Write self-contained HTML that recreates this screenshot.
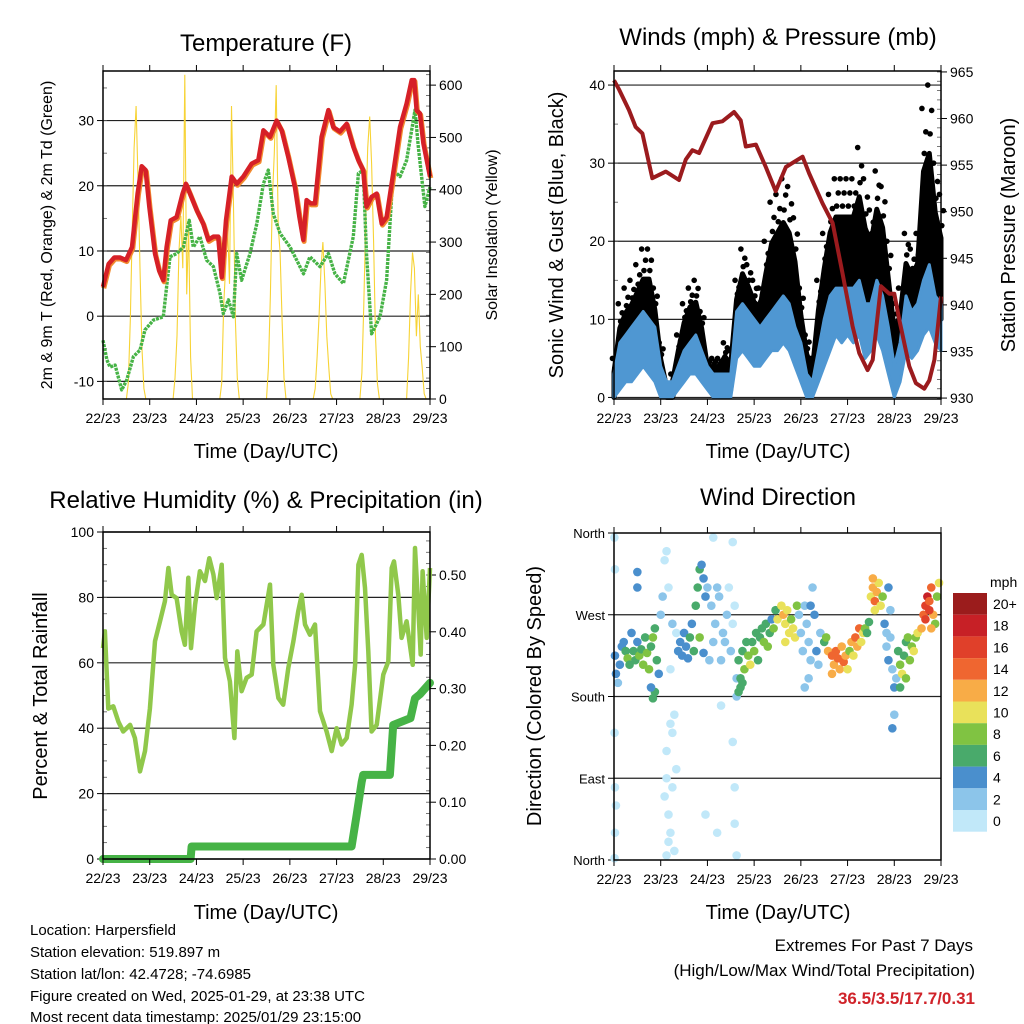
<!DOCTYPE html>
<html><head><meta charset="utf-8"><title>Station charts</title>
<style>
html,body{margin:0;padding:0;background:#fff;}
svg{display:block;font-family:"Liberation Sans",Arial,sans-serif;}
</style></head>
<body>
<svg id="chart" xmlns="http://www.w3.org/2000/svg" width="1024" height="1024" viewBox="0 0 1024 1024">
<rect x="0" y="0" width="1024" height="1024" fill="#fff"/>
<text x="266" y="51" font-size="24" text-anchor="middle">Temperature (F)</text>
<text x="778" y="45" font-size="24" text-anchor="middle">Winds (mph) &amp; Pressure (mb)</text>
<text x="266" y="508" font-size="24" text-anchor="middle">Relative Humidity (%) &amp; Precipitation (in)</text>
<text x="778" y="505" font-size="24" text-anchor="middle">Wind Direction</text>
<text x="266" y="458" font-size="20" text-anchor="middle">Time (Day/UTC)</text>
<text x="778" y="458" font-size="20" text-anchor="middle">Time (Day/UTC)</text>
<text x="266" y="919" font-size="20" text-anchor="middle">Time (Day/UTC)</text>
<text x="778" y="919" font-size="20" text-anchor="middle">Time (Day/UTC)</text>
<text transform="translate(52,235) rotate(-90)" font-size="16" text-anchor="middle">2m &amp; 9m T (Red, Orange) &amp; 2m Td (Green)</text>
<text transform="translate(497,235) rotate(-90)" font-size="16" text-anchor="middle">Solar Insolation (Yellow)</text>
<text transform="translate(563,235) rotate(-90)" font-size="20" text-anchor="middle">Sonic Wind &amp; Gust (Blue, Black)</text>
<text transform="translate(1015,235) rotate(-90)" font-size="20" text-anchor="middle">Station Pressure (Maroon)</text>
<text transform="translate(47,696) rotate(-90)" font-size="20" text-anchor="middle">Percent &amp; Total Rainfall</text>
<text transform="translate(541,696) rotate(-90)" font-size="20" text-anchor="middle">Direction (Colored By Speed)</text>
<g font-size="15">
<text x="30" y="935">Location: Harpersfield</text>
<text x="30" y="957">Station elevation: 519.897 m</text>
<text x="30" y="979">Station lat/lon: 42.4728; -74.6985</text>
<text x="30" y="1001">Figure created on Wed, 2025-01-29, at 23:38 UTC</text>
<text x="30" y="1022">Most recent data timestamp: 2025/01/29 23:15:00</text>
</g>
<g font-size="17" text-anchor="end">
<text x="973" y="951">Extremes For Past 7 Days</text>
<text x="975" y="976">(High/Low/Max Wind/Total Precipitation)</text>
<text x="975" y="1004" fill="#d0232a" font-weight="bold">36.5/3.5/17.7/0.31</text>
</g>
</svg>
<script>
// ---------- DATA ----------
const dayLabels = ["22/23","23/23","24/23","25/23","26/23","27/23","28/23","29/23"];
const tempHour = [0,2.9,5.8,8.7,11.8,14.9,17.8,19.9,21.9,23.8,26.7,28.8,31,32.7,34.8,37.8,40.9,42.6,44.7,48.1,51.5,54.1,56.7,59.2,61,63.2,66.1,68.7,72.1,76.4,79.8,82.4,85.8,89.2,91.8,95.2,98.6,100.9,102.9,104.6,106.7,108.9,112.3,115.8,118.3,121.7,125.2,128.6,131.2,133.7,135.4,138,140.6,143.2,145.7,149.1,152.6,156,158.6,159.9,161.1,162.8,164.6,168];
const tempRed = [4.5,8,9,9,8.6,10.6,18.8,23,22.4,16.8,9.6,7,5.5,10.6,14.7,15.2,18.8,20.3,18.8,16.3,14.2,11.7,12.2,12.2,6,14.7,21.4,20.3,21.4,23.4,23.9,28.5,27.5,30,28.5,24.4,19.8,15.2,11.7,17.8,17.3,17.3,27.5,31.6,29,28.3,29.5,26,23.9,22.4,16.8,18.3,18.8,14.2,15.2,21.9,29,32.6,36.2,36.2,31.6,31.1,26.5,21.4];
const dewHour = [0,2,3.6,6.2,9.6,12.2,15.6,19,21.6,25.9,31,32.7,34.4,37.8,41.3,44.3,46.4,49.8,53.2,56.7,60.1,61.8,64.4,67,68.7,71.2,75.5,79,82.4,84.9,87.5,91,96.1,99.5,103,106.3,111.5,115.8,119.2,123.5,128.6,131.2,133.7,135.4,138,142.3,145.7,149.1,152.6,156,160.3,162,165.4,168];
const dewVal = [-3.7,-6.7,-7.8,-7.5,-11.3,-9.8,-6.2,-5.2,-2.1,-0.6,-0.1,4.5,9.1,9.6,10.6,14.7,10.6,12.2,8.6,7.6,3.5,0.4,2.5,-0.1,9.6,5.5,9.6,14.2,20.3,22.4,15.7,12.7,10.6,8.6,6.5,9.1,7.6,9.6,6.5,5,12.2,21.9,22.4,9.6,-2.7,-0.1,5.5,22.4,21.4,23.9,31.6,26,16.8,19.8];
const solarOffsets = [12,13,14,15,16,17,18,19,20,21,22];
const solarDay0 = [0,30,150,320,480,560,420,250,100,20,0];
const solarDay1 = [0,40,120,280,350,250,620,200,330,80,0];
const solarDay2 = [0,30,180,250,330,220,560,380,150,40,0];
const solarDay3 = [0,60,200,380,470,600,330,280,150,40,0];
const solarDay4 = [0,20,80,160,250,300,220,120,60,10,0];
const solarDay5 = [0,50,180,350,480,540,450,300,120,30,0];
const solarDay6 = [0,80,200,280,250,120,200,100,60,10,0];
const solarDays = [solarDay0,solarDay1,solarDay2,solarDay3,solarDay4,solarDay5,solarDay6];

const windHour = [0,3,6,9,12,15,18,21,24,27,30,33,36,39,42,45,48,51,54,57,60,63,66,69,72,75,78,81,84,87,90,93,96,99,102,105,108,111,114,117,120,123,126,129,132,135,138,141,144,147,150,153,156,159,162,165,168];
const blueLo = [0,1,2,2,3,4,3,2,0,0,0,1,2,3,3,2,1,0,0,0,0,5,6,5,4,4,5,6,6,7,6,4,2,0,0,2,4,6,8,7,8,7,8,5,6,8,6,3,0,2,6,5,6,8,9,7,6];
const blueHi = [3,7,8,9,10,11,10,9,4,2,2,4,6,7,8,6,4,3,3,3,3,11,12,11,10,9,10,11,12,13,12,9,7,3,2,6,10,13,14,14,14,14,15,12,12,15,13,9,4,7,13,11,12,15,17,13,12];
const gustLo = [0,3,5,6,7,8,8,6,1,0,0,2,5,7,7,5,2,2,2,2,1,8,10,9,7,7,8,10,12,12,10,7,4,1,1,4,8,12,14,14,14,14,14,10,12,15,12,6,2,4,10,9,10,14,15,12,10];
const gustHi = [5,12,14,15,17,19,19,14,7,2,3,8,12,14,15,11,5,5,5,7,6,15,19,17,15,14,20,25,26,28,27,23,14,8,5,15,21,26,28,28,28,28,32,28,24,29,27,20,12,14,21,19,21,37,40,30,26];
const pressHour = [0,2.6,7.7,11.1,14.6,19.7,26.6,33.4,36.9,40.3,43.7,50.6,55.7,61.7,65.1,67.7,72.9,78,83.1,88.3,96.9,100.3,107.1,112.3,117.4,122.6,126,130.3,132.9,137.1,141.4,144,146.6,151.7,155.1,159.4,162,164.6,168];
const pressVal = [964.1,963.1,960.9,959.1,958.4,953.6,954.3,953.4,955.6,956.6,956.3,959.5,959.7,960.7,959.8,957,957.2,954.8,952.2,954.8,955.9,954.1,950.9,948.8,943.4,937.7,934.8,933,934.1,942,941.2,941.2,938.4,933.4,931.6,931,931.9,934.1,940.9];

const rhHour = [0,1,2.7,5.3,7.9,10.4,13.9,16.4,19,21.6,24.1,26.7,29.3,31.8,33.6,35.3,37.8,40.4,42.1,43.8,45.2,47.3,49.8,52.4,54.6,56.7,58.4,61,62.7,65.2,67.5,69,71.2,73.8,76.4,78.9,82.4,85.8,87.5,90.1,92.6,95.2,97.8,100.3,102.1,103.8,106.3,108.9,111.5,114.9,117.5,120,122.6,125.2,127.7,129.5,131.2,132.9,134.6,136.3,138,140.6,144,146.6,148.3,149.5,151.7,153.4,156,159.1,160.3,162,163.2,164.2,166.3,168];
const rhVal = [64.5,69.6,46,46.7,42,39,41,37,26.8,33,46,66.6,72.7,78.8,89,80.8,79.8,69.6,65.5,86,64.5,77.8,88,85,92,87,79.8,90,61.5,54.3,37,63.5,51.3,55.4,56.4,69.6,71.7,83.9,59.4,49.2,47.2,58.4,66.6,75.7,80.8,71.7,68.6,71.7,45.2,39,33,40,35,37,47.2,59.4,90,93,82.9,63.5,39,41,56.4,60.4,89,91,80.8,67.6,72.7,59.4,95.1,76.8,62.5,88,67.6,89];
const rainHour = [0,45,45.5,127.7,130.3,132.9,133.7,147.4,149.1,158,160.3,162.8,168];
const rainVal = [0,0,0.022,0.022,0.077,0.136,0.148,0.148,0.236,0.248,0.283,0.29,0.31];

const wdHour = [0.5,1,2,3,4,5,6,7,8,9,10,11,12,13,14,15,16,17,18,19,20,21,22,23,21,19,20,
 0.2,0.5,0.3,0.5,0.5,1,0.3,12,12,28,30,32,30,28,29,31,27,26,27,29,25,26,27,24,30,33,32,29,31,27,28,
 33,34,35,36,37,38,39,40,41,42,43,44,45,46,47,44,46,
 48,50,52,54,56,58,60,62,49,51,53,55,57,59,61,51,61,47,53,55,61,62,62,63,63,63,
 64,65,66,67,68,69,70,71,72,73,74,75,76,77,78,79,80,81,82,83,84,64,65,66,
 86,87,88,89,90,91,92,93,94,88,
 95,96,97,98,99,100,101,102,103,104,105,106,98,100,101,
 108,110,112,113,114,115,116,117,118,119,120,121,122,123,124,125,126,127,128,129,130,131,112,109,
 132,133,134,135,136,137,138,134,133,
 139,140,141,142,143,144,145,140,144,143,141,142,
 146,147,148,149,150,151,152,153,154,155,156,147,150,
 158,159,160,161,162,163,164,165,166,167,160,163,162];
const wdDeg = [225,205,195,215,235,240,230,222,215,250,230,220,240,225,232,215,245,228,210,235,245,255,220,205,185,190,178,
 355,320,140,80,30,60,2,317,300,300,140,100,80,50,30,10,5,70,90,150,290,330,340,270,260,230,250,210,160,120,20,
 230,240,225,250,235,222,245,260,230,280,300,320,325,310,290,245,228,
 300,280,260,290,250,270,230,280,220,240,300,220,240,300,260,355,350,50,30,170,130,80,40,5,180,200,
 220,200,230,210,240,225,215,240,230,250,220,245,255,240,260,235,250,265,255,275,265,185,190,195,
 280,270,260,275,250,265,255,245,280,240,
 270,250,230,280,260,240,220,300,270,230,215,250,190,200,280,
 240,230,225,215,230,222,210,235,218,225,210,230,240,225,245,235,255,240,250,255,250,262,205,245,
 290,300,285,295,305,280,290,275,310,
 260,235,220,245,210,190,200,250,160,145,300,275,
 230,215,205,225,240,245,220,235,230,245,250,190,200,
 255,270,280,290,285,300,270,260,290,305,265,255,275];
const wdSpd = [4,4,3,4,5,4,6,8,7,4,6,7,5,8,6,9,6,8,9,7,8,7,6,5,6,5,6,
 1,1,1,1,1,1,1,4,4,1,1,1,1,1,1,1,1,1,1,1,2,1,1,2,2,2,1,1,1,1,1,
 4,4,4,4,5,4,6,4,6,6,6,6,4,4,4,8,5,
 2,2,2,2,2,2,2,1,2,3,2,2,2,1,1,1,1,1,1,1,1,1,1,1,2,3,
 6,7,7,8,6,8,11,6,8,6,7,7,6,9,6,8,7,5,9,7,10,6,6,7,
 11,12,10,11,10,9,10,10,8,10,
 3,3,3,2,2,3,3,2,4,4,3,3,2,2,4,
 7,13,14,13,14,15,12,13,14,12,10,9,12,11,15,13,14,10,11,8,7,7,12,9,
 11,13,14,12,11,10,9,10,12,
 4,3,4,2,3,4,3,2,2,4,4,3,
 6,8,10,6,7,8,9,8,10,9,11,6,9,
 13,14,16,18,14,15,12,8,9,10,16,12,17];
const speedBins = ["0","2","4","6","8","10","12","14","16","18","20+"];
const dirTicks = [0,90,180,270,360];
const dirTickLabels = ["North","East","South","West","North"];

// ---------- STYLE (not data) ----------
const speedColors = ["#c1e8f9","#8cc5ea","#4a8fcd","#49aa6b","#80c342","#e9e15a","#f8ac47","#ef6630","#e0402a","#c72026","#9b1c1c"];
const NS = "http://www.w3.org/2000/svg";
const svg = document.getElementById("chart");
function mk(tag, attrs, parent){
  const e = document.createElementNS(NS, tag);
  for (const k in attrs) e.setAttribute(k, attrs[k]);
  (parent || svg).appendChild(e);
  return e;
}
function panel(x0,x1,y0,y1){ return {x0:x0,x1:x1,y0:y0,y1:y1,
  x:function(h){return x0 + h/168*(x1-x0);},
  lin:function(lo,hi){return function(v){return y1 - (v-lo)/(hi-lo)*(y1-y0);};}}; }
function pathFrom(xs, ys, fx, fy){
  let d = "";
  for (let i=0;i<xs.length;i++) d += (i?"L":"M") + fx(xs[i]).toFixed(1) + "," + fy(ys[i]).toFixed(1);
  return d;
}
function xAxis(P, g){
  for (let i=0;i<dayLabels.length;i++){
    const x = P.x(i*24);
    const t = mk("line",{x1:x,x2:x,y1:P.y1,y2:P.y1+6,stroke:"#000","stroke-width":1},g);
    
    
    const t2 = mk("line",{x1:x,x2:x,y1:P.y0,y2:P.y0-6,stroke:"#000","stroke-width":1},g);
    
    
    const l = mk("text",{x:x,y:P.y1+24,"font-size":14,"text-anchor":"middle"},g);
    l.textContent = dayLabels[i];
    
    
  }
}
function yAxis(P, g, ticks, fy, side, fmt, grid){
  for (const v of ticks){
    const y = fy(v);
    if (grid){
      const gl = mk("line",{x1:P.x0,x2:P.x1,y1:y,y2:y,stroke:"#222","stroke-width":1.2},g);
      
      
    }
    const xe = side==="left"?P.x0:P.x1;
    const tk = mk("line",{x1:xe,x2:side==="left"?xe-6:xe+6,y1:y,y2:y,stroke:"#000"},g);
    
    
    const l = mk("text",{x:side==="left"?xe-9:xe+9,y:y+5,"font-size":14,"text-anchor":side==="left"?"end":"start"},g);
    l.textContent = fmt(v);
    
    
  }
}
function minorTicks(P, g, lo, hi, step, fy, side){
  for (let v=lo; v<=hi+1e-9; v+=step){
    const y = fy(v);
    if (y<P.y0-0.5||y>P.y1+0.5) continue;
    const xe = side==="left"?P.x0:P.x1;
    const tk = mk("line",{x1:xe,x2:side==="left"?xe+4:xe-4,y1:y,y2:y,stroke:"#555","stroke-width":0.8},g);
    
    
  }
}
function frame(P, g){
  const r = mk("rect",{x:P.x0,y:P.y0,width:P.x1-P.x0,height:P.y1-P.y0,fill:"none",stroke:"#000","stroke-width":1.5},g);
  
  
}

// ---------- PANEL 1: Temperature ----------
{
  const P = panel(103,430,71,399);
  const g = mk("g",{});
  
  
  const fy = P.lin(-12.7,37.6), fs = P.lin(0,627);
  yAxis(P,g,[-10,0,10,20,30],fy,"left",v=>String(v),true);
  yAxis(P,g,[0,100,200,300,400,500,600],fs,"right",v=>String(v),false);
  minorTicks(P,g,-10,35,5,fy,"left");
  minorTicks(P,g,0,620,20,fs,"right");
  const sg = mk("g",{},g);
  
  
  for (let d=0; d<solarDays.length; d++){
    const hrs = solarOffsets.map(o=>d*24+o);
    const p = mk("path",{d:pathFrom(hrs,solarDays[d],P.x,fs),fill:"none",stroke:"#f7d335","stroke-width":1.1},sg);
    
    
  }
  const dew = mk("path",{d:pathFrom(dewHour,dewVal,P.x,fy),fill:"none",stroke:"#46b346","stroke-width":3.4,"stroke-dasharray":"3 1","stroke-linejoin":"round"},g);
  
  
  const or = mk("path",{d:pathFrom(tempHour,tempRed,P.x,fy),fill:"none",stroke:"#f28a2e","stroke-width":5,"stroke-linejoin":"round",transform:"translate(0.8,1.5)"},g);
  
  
  const rd = mk("path",{d:pathFrom(tempHour,tempRed,P.x,fy),fill:"none",stroke:"#d62027","stroke-width":4.5,"stroke-linejoin":"round"},g);
  
  
  frame(P,g); xAxis(P,g);
}

// ---------- PANEL 2: Winds ----------
{
  const P = panel(614,941,71,399);
  const g = mk("g",{});
  
  
  const fy = P.lin(-0.2,41.8), fp = P.lin(929.9,965.1);
  yAxis(P,g,[0,10,20,30,40],fy,"left",v=>String(v),true);
  yAxis(P,g,[930,935,940,945,950,955,960,965],fp,"right",v=>String(v),false);
  minorTicks(P,g,0,40,5,fy,"left");
  minorTicks(P,g,930,965,1,fp,"right");
  // dense gust core: lower ~65% of the gust range
  let d = "";
  for (let i=0;i<windHour.length;i++) d += (i?"L":"M")+P.x(windHour[i]).toFixed(1)+","+fy(gustLo[i]+0.65*(gustHi[i]-gustLo[i])).toFixed(1);
  for (let i=windHour.length-1;i>=0;i--) d += "L"+P.x(windHour[i]).toFixed(1)+","+fy(gustLo[i]).toFixed(1);
  const gp = mk("path",{d:d+"Z",fill:"#000",stroke:"#000","stroke-width":5,"stroke-linejoin":"round"},g);
  
  
  for (let i=0;i<windHour.length;i++){
    for (const f of [0.75,0.87,1]){
      const hOff = (f===0.87? 1.2 : (f===1? -0.8 : 0.4));
      const c = mk("circle",{cx:P.x(windHour[i]+hOff),cy:fy(gustLo[i]+f*(gustHi[i]-gustLo[i])),r:2.8,fill:"#000"},g);
      
      
    }
  }
  let b = "";
  for (let i=0;i<windHour.length;i++) b += (i?"L":"M")+P.x(windHour[i]).toFixed(1)+","+fy(blueHi[i]).toFixed(1);
  for (let i=windHour.length-1;i>=0;i--) b += "L"+P.x(windHour[i]).toFixed(1)+","+fy(blueLo[i]).toFixed(1);
  const bp = mk("path",{d:b+"Z",fill:"#4f97d2",stroke:"#4f97d2","stroke-width":3,"stroke-linejoin":"round"},g);
  
  
  const pr = mk("path",{d:pathFrom(pressHour,pressVal,P.x,fp),fill:"none",stroke:"#9b1b1e","stroke-width":4,"stroke-linejoin":"round"},g);
  
  
  frame(P,g); xAxis(P,g);
}

// ---------- PANEL 3: RH & Precip ----------
{
  const P = panel(103,430,532,859);
  const g = mk("g",{});
  
  
  const fy = P.lin(0,100), fr = P.lin(0,0.5757);
  yAxis(P,g,[0,20,40,60,80,100],fy,"left",v=>String(v),true);
  yAxis(P,g,[0,0.1,0.2,0.3,0.4,0.5],fr,"right",v=>v.toFixed(2),false);
  minorTicks(P,g,0,100,5,fy,"left");
  minorTicks(P,g,0,0.56,0.02,fr,"right");
  const rh = mk("path",{d:pathFrom(rhHour,rhVal,P.x,fy),fill:"none",stroke:"#90c84b","stroke-width":4.5,"stroke-linejoin":"round"},g);
  
  
  const rn = mk("path",{d:pathFrom(rainHour,rainVal,P.x,fr),fill:"none",stroke:"#46b346","stroke-width":8,"stroke-linejoin":"round","stroke-linecap":"round"},g);
  
  
  frame(P,g); xAxis(P,g);
}

// ---------- PANEL 4: Wind Direction ----------
{
  const P = panel(614,941,533,860);
  const g = mk("g",{});
  
  
  const fy = P.lin(0,360);
  for (let i=0;i<dirTicks.length;i++){
    const y = fy(dirTicks[i]);
    if (dirTicks[i]>0 && dirTicks[i]<360){
      const gl = mk("line",{x1:P.x0,x2:P.x1,y1:y,y2:y,stroke:"#222","stroke-width":1.2},g);
      
      
    }
    const tk = mk("line",{x1:P.x0,x2:P.x0-6,y1:y,y2:y,stroke:"#000"},g);
    
    
    const l = mk("text",{x:P.x0-9,y:y+5,"font-size":13,"text-anchor":"end"},g);
    l.textContent = dirTickLabels[i];
    
    
  }
  for (let i=0;i<wdHour.length;i++){
    const bin = Math.min(10, Math.floor(wdSpd[i]/2));
    const c = mk("circle",{cx:P.x(wdHour[i]),cy:fy(wdDeg[i]),r:4.3,fill:speedColors[bin]},g);
    
    
  }
  frame(P,g); xAxis(P,g);
  const cb = mk("g",{});
  
  
  const mt = mk("text",{x:990,y:587,"font-size":14},cb);
  mt.textContent = "mph";
  
  
  const n = speedBins.length, top = 593, h = 21.7;
  for (let i=0;i<n;i++){
    const k = n-1-i;
    const r = mk("rect",{x:953,y:top+i*h,width:34,height:h,fill:speedColors[k]},cb);
    
    
    const t = mk("text",{x:993,y:top+i*h+16,"font-size":14},cb);
    t.textContent = speedBins[k];
    
    
  }
}
</script>
</body></html>
